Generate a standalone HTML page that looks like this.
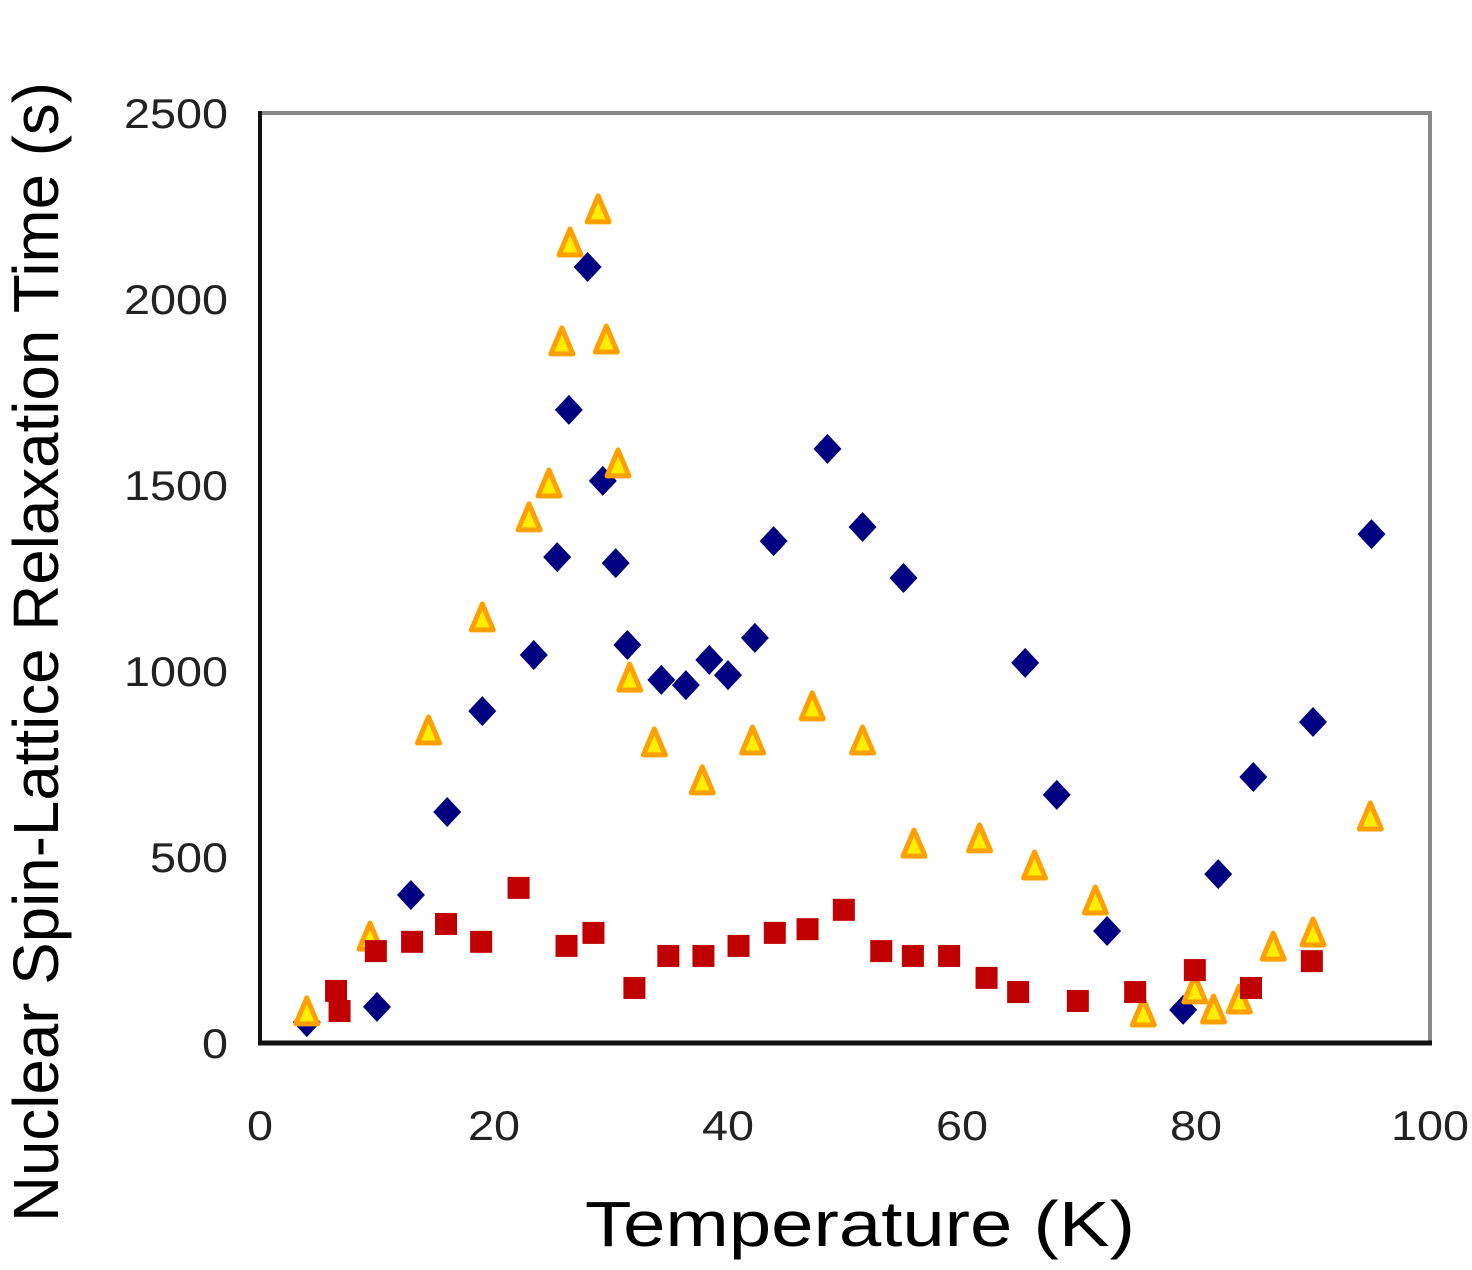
<!DOCTYPE html>
<html><head><meta charset="utf-8"><style>
body{margin:0;background:#fff;}
svg{display:block;font-family:"Liberation Sans",sans-serif;}
</style></head><body>
<svg id="chart" width="1472" height="1270" viewBox="0 0 1472 1270">
<g id="axes"></g>
<g id="marks"></g>
<text transform="translate(58,652) rotate(-90)" text-anchor="middle" font-size="64" textLength="1140" lengthAdjust="spacingAndGlyphs" fill="#000">Nuclear Spin-Lattice Relaxation Time (s)</text>
<text x="860" y="1246" text-anchor="middle" font-size="64" textLength="550" lengthAdjust="spacingAndGlyphs" fill="#000">Temperature (K)</text>
</svg>
<script>
const xTicks=[0,20,40,60,80,100];
const yTicks=[0,500,1000,1500,2000,2500];
const blueX=[4.0,10.0,12.9,16.0,19.0,23.4,25.4,26.4,28.0,29.3,30.4,31.4,34.3,36.4,38.4,40.0,42.3,43.9,48.5,51.5,55.0,65.4,68.1,72.4,78.9,81.9,84.9,90.0,95.0];
const blueY=[56,97,398,621,892,1043,1306,1702,2086,1511,1290,1070,976,962,1030,989,1089,1349,1597,1387,1250,1022,667,301,89,454,715,863,1368];
const orangeX=[4.0,9.4,14.4,19.0,23.0,24.7,25.8,26.5,28.9,29.6,30.6,31.6,33.7,37.8,42.1,47.2,51.5,55.9,61.5,66.2,71.4,75.5,79.9,81.5,83.7,86.6,90.0,94.9];
const orangeY=[81,282,836,1140,1409,1500,1882,2148,2237,1887,1554,978,804,702,809,901,809,532,546,473,379,78,140,86,113,255,293,605];
const redX=[6.5,6.8,9.9,13.0,15.9,18.9,22.1,26.2,28.5,32.0,34.9,37.9,40.9,44.0,46.8,49.9,53.1,55.8,58.9,62.1,64.8,69.9,74.8,79.9,84.7,89.9];
const redY=[140,86,247,272,320,272,417,261,296,148,234,234,261,296,306,358,247,234,234,175,137,113,137,196,148,220];

const X0=260,X1=1430,Y0=1043,Y1=113;
const sx=v=>X0+(X1-X0)*v/100;
const sy=v=>Y0-(Y0-Y1)*v/2500;
const NS="http://www.w3.org/2000/svg";
const axes=document.getElementById('axes'),marks=document.getElementById('marks');
function mk(tag,attrs,parent){const e=document.createElementNS(NS,tag);for(const k in attrs)e.setAttribute(k,attrs[k]);parent.appendChild(e);return e;}

let r=mk('rect',{x:X0,y:Y1,width:X1-X0,height:Y0-Y1,fill:'none',stroke:'#888','stroke-width':4},axes);


let l=mk('line',{x1:X0,y1:Y1-2,x2:X0,y2:Y0+2,stroke:'#111','stroke-width':4},axes);


l=mk('line',{x1:X0-2,y1:Y0,x2:X1+2,y2:Y0,stroke:'#111','stroke-width':5},axes);


xTicks.forEach(v=>{const t=mk('text',{x:sx(v),y:1140,'text-anchor':'middle','font-size':42,fill:'#222',textLength:String(v).length*26,lengthAdjust:'spacingAndGlyphs'},axes);t.textContent=v;

});
yTicks.forEach(v=>{const t=mk('text',{x:228,y:sy(v)+15,'text-anchor':'end','font-size':42,fill:'#222',textLength:String(v).length*26,lengthAdjust:'spacingAndGlyphs'},axes);t.textContent=v;

});

blueX.forEach((v,i)=>{const x=sx(v),y=sy(blueY[i]);
const p=mk('polygon',{points:`${x},${y-15} ${x+14},${y} ${x},${y+15} ${x-14},${y}`,fill:'#000080'},marks);

});
orangeX.forEach((v,i)=>{const x=sx(v),y=sy(orangeY[i]);
const p=mk('polygon',{points:`${x},${y-15} ${x+11},${y+11} ${x-11},${y+11}`,fill:'#ffee00',stroke:'#ffa000','stroke-width':5,'stroke-linejoin':'round'},marks);

});
redX.forEach((v,i)=>{const x=sx(v),y=sy(redY[i]);
const p=mk('rect',{x:x-11,y:y-11,width:22,height:22,fill:'#c00000'},marks);

});
</script>
</body></html>
